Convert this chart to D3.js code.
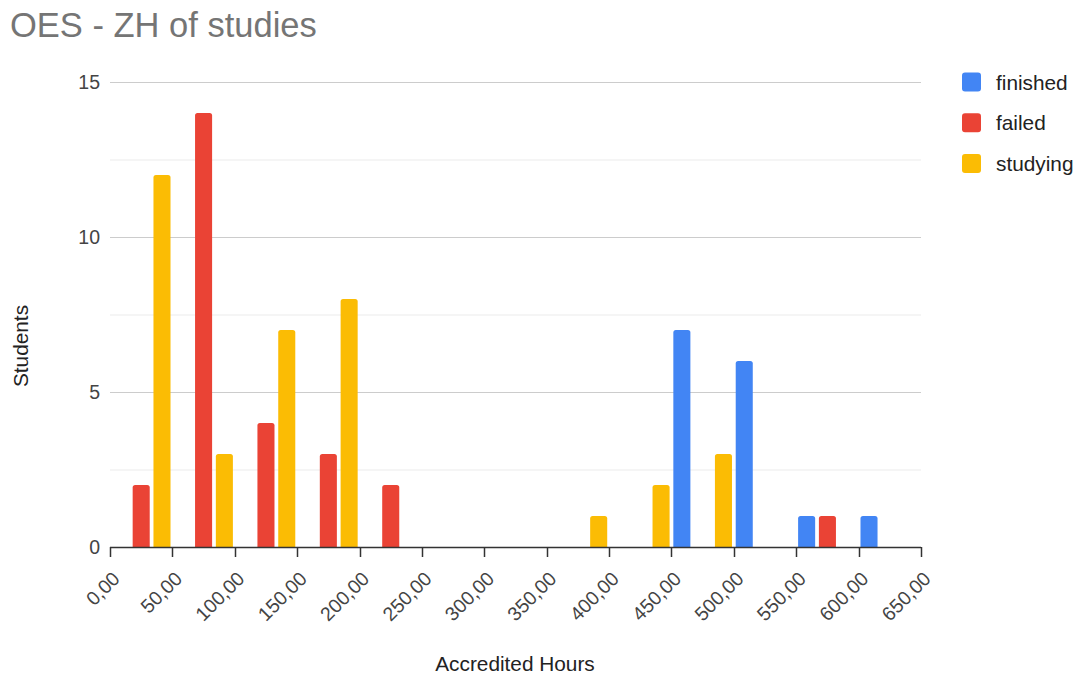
<!DOCTYPE html>
<html>
<head>
<meta charset="utf-8">
<script src="https://cdn.jsdelivr.net/npm/d3@7"></script>
<style>
  html, body { margin: 0; padding: 0; background: #fff; }
  svg { display: block; font-family: Arial, "Liberation Sans", sans-serif; }
</style>
</head>
<body>
<svg id="chart" width="1083" height="677"></svg>
<script>
// Histogram of accredited hours, bins of 50 hours
const binStarts = [0, 50, 100, 150, 200, 250, 300, 350, 400, 450, 500, 550, 600];
const binWidth = 50;
const seriesNames = ["finished", "failed", "studying"];
const seriesColors = ["#4285F4", "#EA4335", "#FBBC04"];
const finished = [0, 0, 0, 0, 0, 0, 0, 0, 0, 7, 6, 1, 1];
const failed   = [2, 14, 4, 3, 2, 0, 0, 0, 0, 0, 0, 1, 0];
const studying = [12, 3, 7, 8, 0, 0, 0, 1, 2, 3, 0, 0, 0];
const xTicks = [0, 50, 100, 150, 200, 250, 300, 350, 400, 450, 500, 550, 600, 650];
const yTicks = [0, 5, 10, 15];
const yMinorTicks = [2.5, 7.5, 12.5];

const seriesValues = [finished, failed, studying];

const svg = d3.select("#chart");
const plotLeft = 110, plotRight = 921, plotTop = 82, plotBottom = 547;

const x = d3.scaleLinear().domain([0, 650]).range([plotLeft, plotRight]);
const y = d3.scaleLinear().domain([0, 15]).range([plotBottom, plotTop]);
const slot = d3.scaleBand()
  .domain(seriesNames)
  .range([0, x(binWidth) - x(0)])
  .paddingInner(0.18)
  .paddingOuter(0.09);

const fmt = d3.formatLocale({ decimal: ",", thousands: ".", grouping: [3], currency: ["", ""] }).format(".2f");

// Title
svg.append("text")
  .attr("x", 10).attr("y", 37)
  .attr("font-size", 34.5)
  .attr("fill", "#757575")
  .text("OES - ZH of studies");

// Gridlines
svg.append("g").selectAll("line")
  .data(yMinorTicks).join("line")
  .attr("x1", plotLeft).attr("x2", plotRight)
  .attr("y1", d => y(d) + 0.5).attr("y2", d => y(d) + 0.5)
  .attr("stroke", "#ebebeb").attr("stroke-width", 1);

svg.append("g").selectAll("line")
  .data(yTicks.filter(d => d !== 0)).join("line")
  .attr("x1", plotLeft).attr("x2", plotRight)
  .attr("y1", d => y(d) + 0.5).attr("y2", d => y(d) + 0.5)
  .attr("stroke", "#cccccc").attr("stroke-width", 1);

// Y tick labels
svg.append("g").selectAll("text")
  .data(yTicks).join("text")
  .attr("x", 100).attr("y", d => y(d))
  .attr("dy", "0.36em")
  .attr("text-anchor", "end")
  .attr("font-size", 19.5)
  .attr("fill", "#444")
  .text(d => d);

// Bars with rounded top corners
function barPath(x0, w, yTop, yBase) {
  const r = Math.min(2.5, (yBase - yTop) / 2);
  return `M${x0},${yBase}V${yTop + r}Q${x0},${yTop} ${x0 + r},${yTop}H${x0 + w - r}Q${x0 + w},${yTop} ${x0 + w},${yTop + r}V${yBase}Z`;
}

const barData = [];
seriesNames.forEach((name, si) => {
  seriesValues[si].forEach((v, bi) => {
    if (v > 0) barData.push({ name, color: seriesColors[si], start: binStarts[bi], value: v });
  });
});

svg.append("g").selectAll("path")
  .data(barData).join("path")
  .attr("fill", d => d.color)
  .attr("d", d => barPath(x(d.start) + slot(d.name), slot.bandwidth(), y(d.value), y(0)));

// X axis baseline and ticks
const axisG = svg.append("g").attr("transform", `translate(0,${plotBottom})`);
axisG.append("line")
  .attr("x1", plotLeft).attr("x2", plotRight)
  .attr("y1", 0.5).attr("y2", 0.5)
  .attr("stroke", "#333").attr("stroke-width", 1.5);
axisG.selectAll("line.tick")
  .data(xTicks).join("line")
  .attr("class", "tick")
  .attr("x1", d => Math.round(x(d)) + 0.5).attr("x2", d => Math.round(x(d)) + 0.5)
  .attr("y1", 0).attr("y2", 10)
  .attr("stroke", "#333").attr("stroke-width", 1.5);
axisG.selectAll("text")
  .data(xTicks).join("text")
  .attr("text-anchor", "end")
  .attr("font-size", 19.5)
  .attr("fill", "#444")
  .attr("transform", d => `translate(${x(d) + 11},${33}) rotate(-45)`)
  .text(d => fmt(d));

// Axis titles
svg.append("text")
  .attr("x", 515).attr("y", 671)
  .attr("text-anchor", "middle")
  .attr("font-size", 20.8)
  .attr("fill", "#222")
  .text("Accredited Hours");

svg.append("text")
  .attr("transform", "translate(28,346) rotate(-90)")
  .attr("text-anchor", "middle")
  .attr("font-size", 20.8)
  .attr("fill", "#222")
  .text("Students");

// Legend
const legend = svg.append("g").selectAll("g")
  .data(seriesNames).join("g")
  .attr("transform", (d, i) => `translate(962,${82 + i * 40.8})`);
legend.append("rect")
  .attr("x", 0).attr("y", -9.5)
  .attr("width", 19).attr("height", 19)
  .attr("rx", 3)
  .attr("fill", (d, i) => seriesColors[i]);
legend.append("text")
  .attr("x", 34).attr("y", 0)
  .attr("dy", "0.36em")
  .attr("font-size", 20.8)
  .attr("fill", "#222")
  .text(d => d);
</script>
</body>
</html>
